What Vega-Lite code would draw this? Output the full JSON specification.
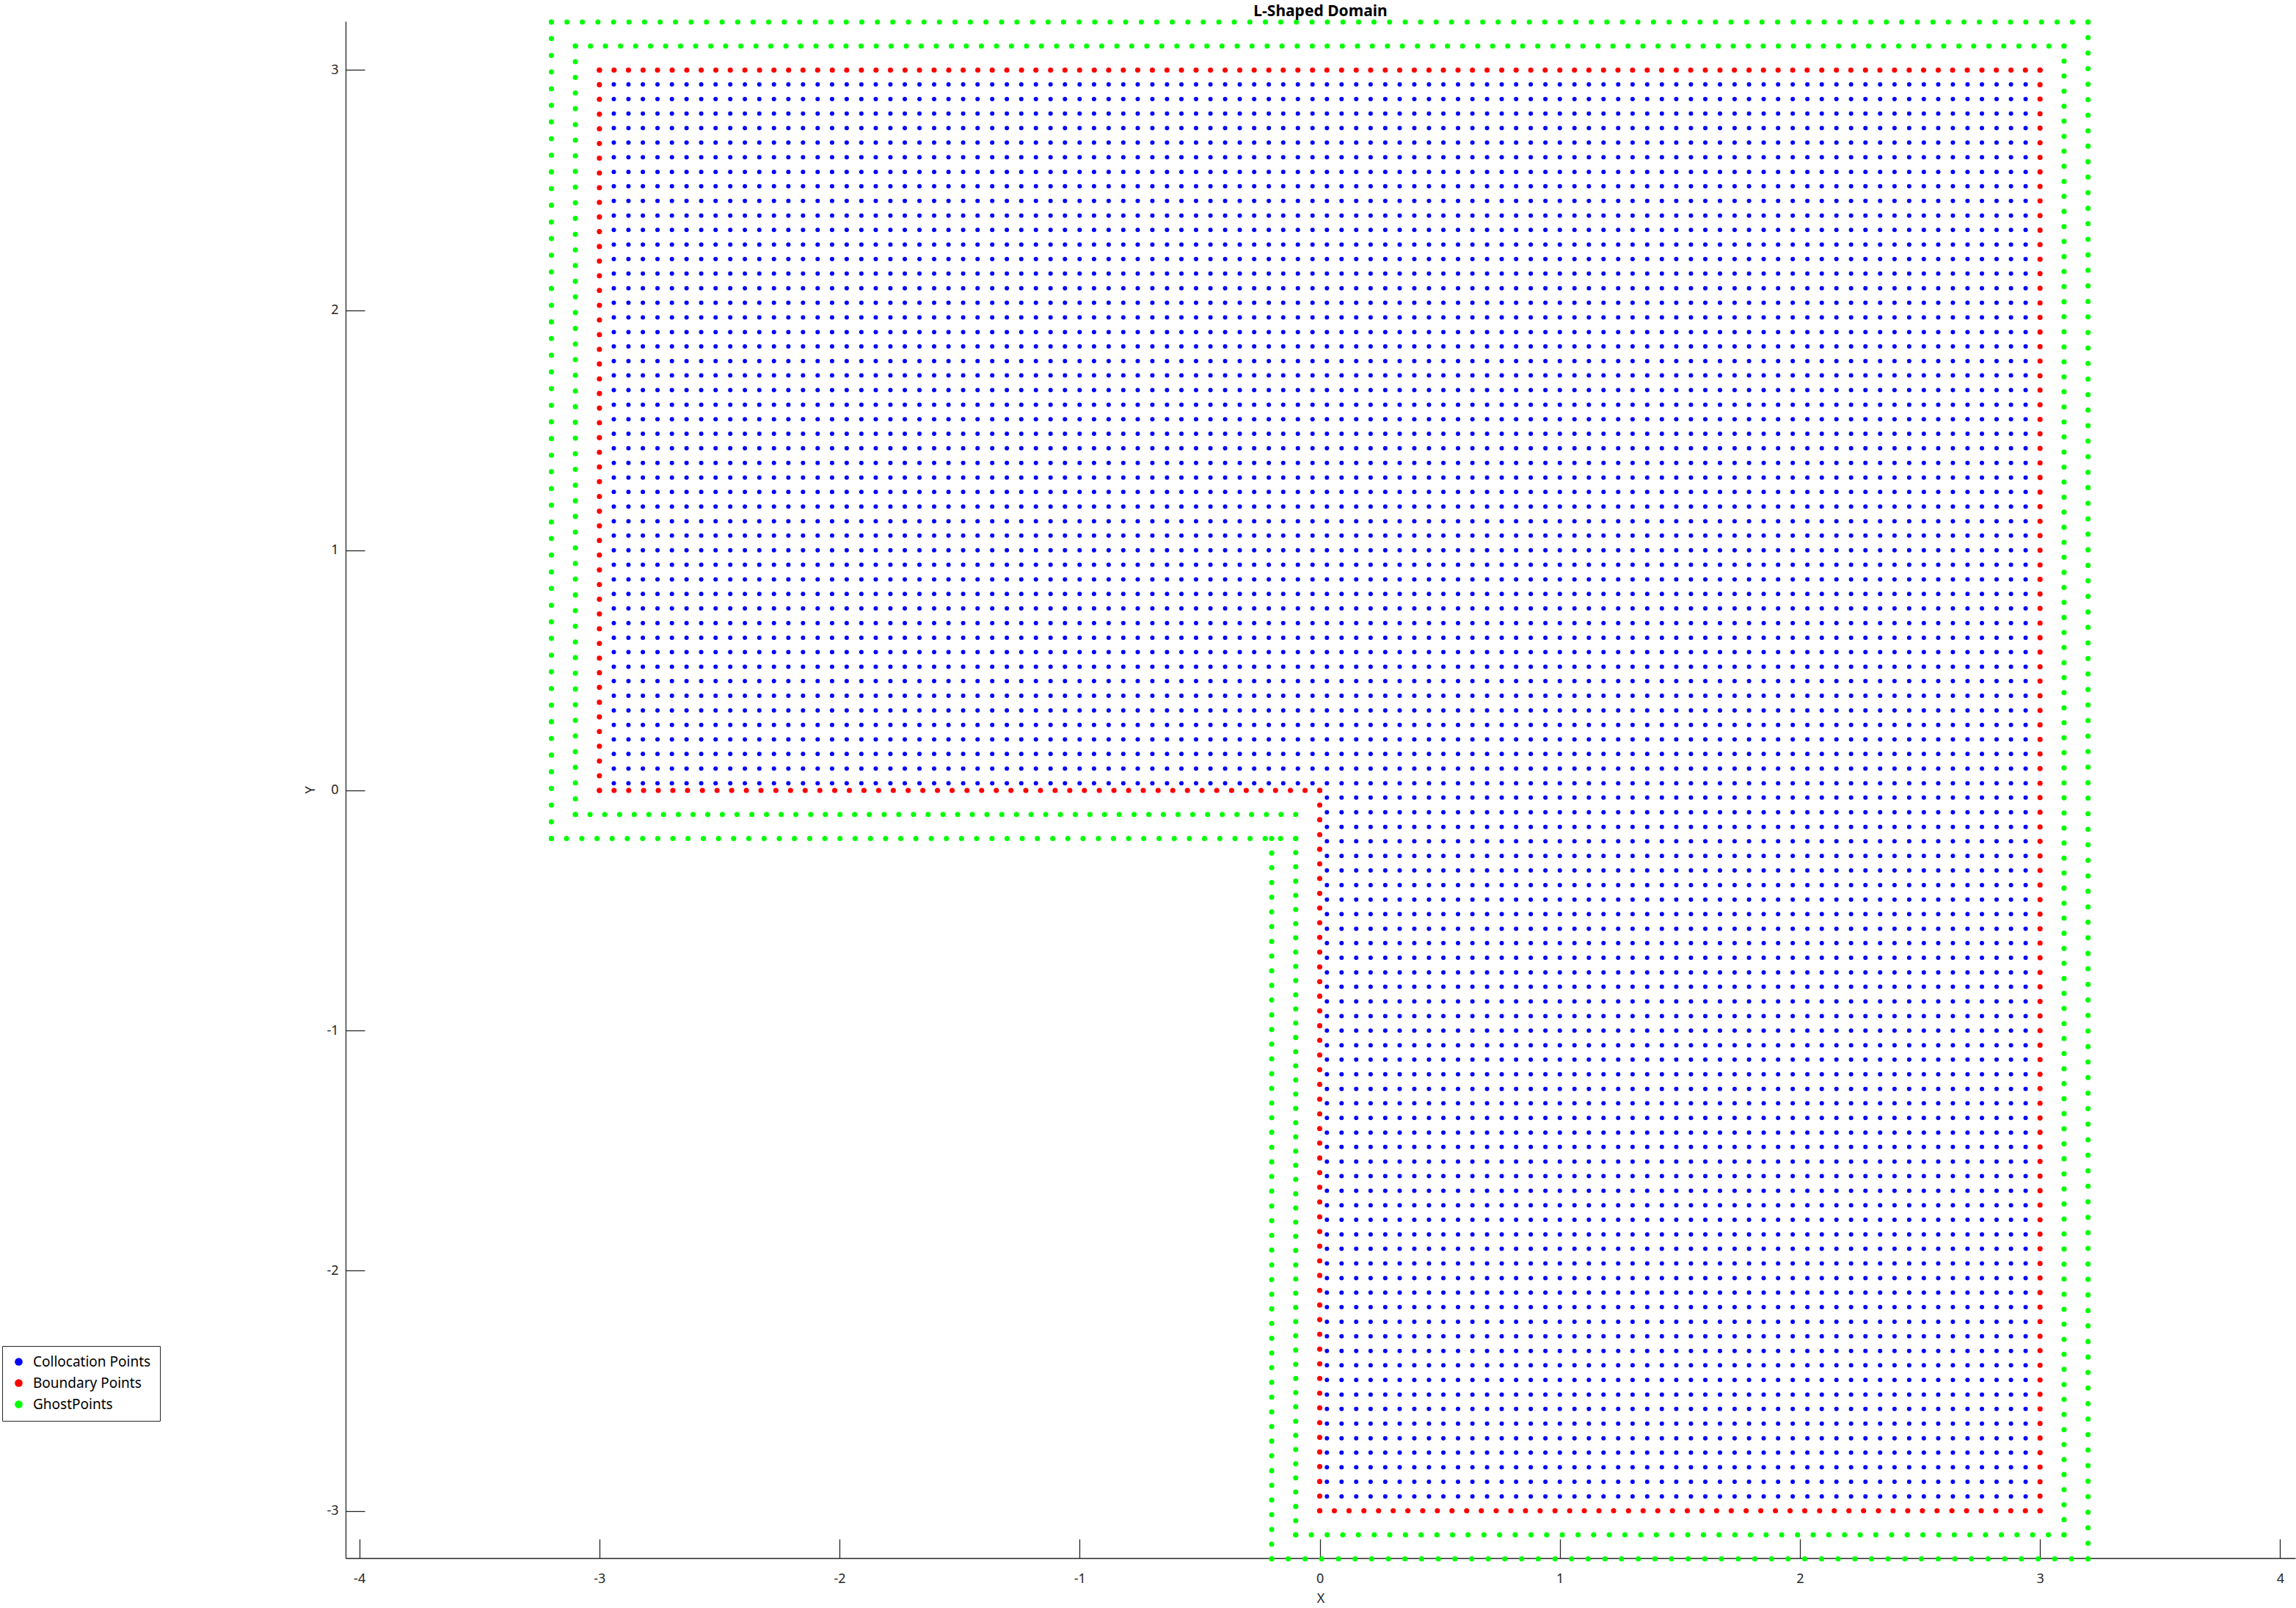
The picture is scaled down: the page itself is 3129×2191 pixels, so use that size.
{
"$schema": "https://vega.github.io/schema/vega-lite/v6.json",
"width": 2657, "height": 2094,
"autosize": {"type": "none"},
"padding": {"left": 471, "top": 29, "right": 1, "bottom": 68},
"background": "white",
"title": {"text": "L-Shaped Domain", "fontSize": 21, "fontWeight": "bold", "font": "Noto Sans", "color": "#000000", "anchor": "middle", "baseline": "alphabetic", "offset": 10, "dy": 27},
"config": {
 "view": {"stroke": null},
 "axis": {"domainColor": "#262626", "tickColor": "#262626", "labelColor": "#262626", "titleColor": "#262626", "labelFont": "Noto Sans", "titleFont": "Noto Sans", "labelFontSize": 18, "titleFontSize": 18, "titleFontWeight": "normal", "tickSize": -26, "grid": false, "domainWidth": 1.3, "tickWidth": 1.3, "labelExpr": "datum.value"}
},
"data": {"values": [
{"t":"GhostPoints","ys":[3.2],"xs":[-3.2,-3.135,-3.071,-3.006,-2.941,-2.877,-2.812,-2.747,-2.683,-2.618,-2.554,-2.489,-2.424,-2.36,-2.295,-2.23,-2.166,-2.101,-2.036,-1.972,-1.907,-1.842,-1.778,-1.713,-1.648,-1.584,-1.519,-1.455,-1.39,-1.325,-1.261,-1.196,-1.131,-1.067,-1.002,-0.937,-0.873,-0.808,-0.743,-0.679,-0.614,-0.549,-0.485,-0.42,-0.356,-0.291,-0.226,-0.162,-0.097,-0.032,0.032,0.097,0.162,0.226,0.291,0.356,0.42,0.485,0.549,0.614,0.679,0.743,0.808,0.873,0.937,1.002,1.067,1.131,1.196,1.261,1.325,1.39,1.455,1.519,1.584,1.648,1.713,1.778,1.842,1.907,1.972,2.036,2.101,2.166,2.23,2.295,2.36,2.424,2.489,2.554,2.618,2.683,2.747,2.812,2.877,2.941,3.006,3.071,3.135,3.2]},
{"t":"GhostPoints","xs":[3.2],"ys":[-3.2,-3.135,-3.071,-3.006,-2.941,-2.877,-2.812,-2.747,-2.683,-2.618,-2.554,-2.489,-2.424,-2.36,-2.295,-2.23,-2.166,-2.101,-2.036,-1.972,-1.907,-1.842,-1.778,-1.713,-1.648,-1.584,-1.519,-1.455,-1.39,-1.325,-1.261,-1.196,-1.131,-1.067,-1.002,-0.937,-0.873,-0.808,-0.743,-0.679,-0.614,-0.549,-0.485,-0.42,-0.356,-0.291,-0.226,-0.162,-0.097,-0.032,0.032,0.097,0.162,0.226,0.291,0.356,0.42,0.485,0.549,0.614,0.679,0.743,0.808,0.873,0.937,1.002,1.067,1.131,1.196,1.261,1.325,1.39,1.455,1.519,1.584,1.648,1.713,1.778,1.842,1.907,1.972,2.036,2.101,2.166,2.23,2.295,2.36,2.424,2.489,2.554,2.618,2.683,2.747,2.812,2.877,2.941,3.006,3.071,3.135,3.2]},
{"t":"GhostPoints","ys":[-3.2],"xs":[-0.2,-0.131,-0.061,0.008,0.078,0.147,0.216,0.286,0.355,0.424,0.494,0.563,0.633,0.702,0.771,0.841,0.91,0.98,1.049,1.118,1.188,1.257,1.327,1.396,1.465,1.535,1.604,1.673,1.743,1.812,1.882,1.951,2.02,2.09,2.159,2.229,2.298,2.367,2.437,2.506,2.576,2.645,2.714,2.784,2.853,2.922,2.992,3.061,3.131,3.2]},
{"t":"GhostPoints","xs":[-3.2],"ys":[-0.2,-0.131,-0.061,0.008,0.078,0.147,0.216,0.286,0.355,0.424,0.494,0.563,0.633,0.702,0.771,0.841,0.91,0.98,1.049,1.118,1.188,1.257,1.327,1.396,1.465,1.535,1.604,1.673,1.743,1.812,1.882,1.951,2.02,2.09,2.159,2.229,2.298,2.367,2.437,2.506,2.576,2.645,2.714,2.784,2.853,2.922,2.992,3.061,3.131,3.2]},
{"t":"GhostPoints","xs":[-0.2],"ys":[-3.2,-3.139,-3.078,-3.016,-2.955,-2.894,-2.833,-2.771,-2.71,-2.649,-2.588,-2.527,-2.465,-2.404,-2.343,-2.282,-2.22,-2.159,-2.098,-2.037,-1.976,-1.914,-1.853,-1.792,-1.731,-1.669,-1.608,-1.547,-1.486,-1.424,-1.363,-1.302,-1.241,-1.18,-1.118,-1.057,-0.996,-0.935,-0.873,-0.812,-0.751,-0.69,-0.629,-0.567,-0.506,-0.445,-0.384,-0.322,-0.261,-0.2]},
{"t":"GhostPoints","ys":[-0.2],"xs":[-3.2,-3.137,-3.073,-3.01,-2.947,-2.884,-2.82,-2.757,-2.694,-2.631,-2.567,-2.504,-2.441,-2.378,-2.314,-2.251,-2.188,-2.124,-2.061,-1.998,-1.935,-1.871,-1.808,-1.745,-1.682,-1.618,-1.555,-1.492,-1.429,-1.365,-1.302,-1.239,-1.176,-1.112,-1.049,-0.986,-0.922,-0.859,-0.796,-0.733,-0.669,-0.606,-0.543,-0.48,-0.416,-0.353,-0.29,-0.227,-0.163,-0.1]},
{"t":"GhostPoints","ys":[3.1],"xs":[-3.1,-3.037,-2.975,-2.912,-2.849,-2.787,-2.724,-2.662,-2.599,-2.536,-2.474,-2.411,-2.348,-2.286,-2.223,-2.161,-2.098,-2.035,-1.973,-1.91,-1.847,-1.785,-1.722,-1.66,-1.597,-1.534,-1.472,-1.409,-1.346,-1.284,-1.221,-1.159,-1.096,-1.033,-0.971,-0.908,-0.845,-0.783,-0.72,-0.658,-0.595,-0.532,-0.47,-0.407,-0.344,-0.282,-0.219,-0.157,-0.094,-0.031,0.031,0.094,0.157,0.219,0.282,0.344,0.407,0.47,0.532,0.595,0.658,0.72,0.783,0.845,0.908,0.971,1.033,1.096,1.159,1.221,1.284,1.346,1.409,1.472,1.534,1.597,1.66,1.722,1.785,1.847,1.91,1.973,2.035,2.098,2.161,2.223,2.286,2.348,2.411,2.474,2.536,2.599,2.662,2.724,2.787,2.849,2.912,2.975,3.037,3.1]},
{"t":"GhostPoints","xs":[3.1],"ys":[-3.1,-3.037,-2.975,-2.912,-2.849,-2.787,-2.724,-2.662,-2.599,-2.536,-2.474,-2.411,-2.348,-2.286,-2.223,-2.161,-2.098,-2.035,-1.973,-1.91,-1.847,-1.785,-1.722,-1.66,-1.597,-1.534,-1.472,-1.409,-1.346,-1.284,-1.221,-1.159,-1.096,-1.033,-0.971,-0.908,-0.845,-0.783,-0.72,-0.658,-0.595,-0.532,-0.47,-0.407,-0.344,-0.282,-0.219,-0.157,-0.094,-0.031,0.031,0.094,0.157,0.219,0.282,0.344,0.407,0.47,0.532,0.595,0.658,0.72,0.783,0.845,0.908,0.971,1.033,1.096,1.159,1.221,1.284,1.346,1.409,1.472,1.534,1.597,1.66,1.722,1.785,1.847,1.91,1.973,2.035,2.098,2.161,2.223,2.286,2.348,2.411,2.474,2.536,2.599,2.662,2.724,2.787,2.849,2.912,2.975,3.037,3.1]},
{"t":"GhostPoints","ys":[-3.1],"xs":[-0.1,-0.035,0.031,0.096,0.161,0.227,0.292,0.357,0.422,0.488,0.553,0.618,0.684,0.749,0.814,0.88,0.945,1.01,1.076,1.141,1.206,1.271,1.337,1.402,1.467,1.533,1.598,1.663,1.729,1.794,1.859,1.924,1.99,2.055,2.12,2.186,2.251,2.316,2.382,2.447,2.512,2.578,2.643,2.708,2.773,2.839,2.904,2.969,3.035,3.1]},
{"t":"GhostPoints","xs":[-3.1],"ys":[-0.1,-0.035,0.031,0.096,0.161,0.227,0.292,0.357,0.422,0.488,0.553,0.618,0.684,0.749,0.814,0.88,0.945,1.01,1.076,1.141,1.206,1.271,1.337,1.402,1.467,1.533,1.598,1.663,1.729,1.794,1.859,1.924,1.99,2.055,2.12,2.186,2.251,2.316,2.382,2.447,2.512,2.578,2.643,2.708,2.773,2.839,2.904,2.969,3.035,3.1]},
{"t":"GhostPoints","xs":[-0.1],"ys":[-3.1,-3.041,-2.982,-2.922,-2.863,-2.804,-2.745,-2.686,-2.627,-2.567,-2.508,-2.449,-2.39,-2.331,-2.271,-2.212,-2.153,-2.094,-2.035,-1.976,-1.916,-1.857,-1.798,-1.739,-1.68,-1.62,-1.561,-1.502,-1.443,-1.384,-1.324,-1.265,-1.206,-1.147,-1.088,-1.029,-0.969,-0.91,-0.851,-0.792,-0.733,-0.673,-0.614,-0.555,-0.496,-0.437,-0.378,-0.318,-0.259,-0.2]},
{"t":"GhostPoints","ys":[-0.1],"xs":[-3.1,-3.039,-2.978,-2.916,-2.855,-2.794,-2.733,-2.671,-2.61,-2.549,-2.488,-2.427,-2.365,-2.304,-2.243,-2.182,-2.12,-2.059,-1.998,-1.937,-1.876,-1.814,-1.753,-1.692,-1.631,-1.569,-1.508,-1.447,-1.386,-1.324,-1.263,-1.202,-1.141,-1.08,-1.018,-0.957,-0.896,-0.835,-0.773,-0.712,-0.651,-0.59,-0.529,-0.467,-0.406,-0.345,-0.284,-0.222,-0.161,-0.1]},
{"t":"Boundary Points","ys":[3],"xs":[-3,-2.939,-2.879,-2.818,-2.758,-2.697,-2.636,-2.576,-2.515,-2.455,-2.394,-2.333,-2.273,-2.212,-2.152,-2.091,-2.03,-1.97,-1.909,-1.848,-1.788,-1.727,-1.667,-1.606,-1.545,-1.485,-1.424,-1.364,-1.303,-1.242,-1.182,-1.121,-1.061,-1,-0.939,-0.879,-0.818,-0.758,-0.697,-0.636,-0.576,-0.515,-0.455,-0.394,-0.333,-0.273,-0.212,-0.152,-0.091,-0.03,0.03,0.091,0.152,0.212,0.273,0.333,0.394,0.455,0.515,0.576,0.636,0.697,0.758,0.818,0.879,0.939,1,1.061,1.121,1.182,1.242,1.303,1.364,1.424,1.485,1.545,1.606,1.667,1.727,1.788,1.848,1.909,1.97,2.03,2.091,2.152,2.212,2.273,2.333,2.394,2.455,2.515,2.576,2.636,2.697,2.758,2.818,2.879,2.939,3]},
{"t":"Boundary Points","xs":[3],"ys":[-3,-2.939,-2.879,-2.818,-2.758,-2.697,-2.636,-2.576,-2.515,-2.455,-2.394,-2.333,-2.273,-2.212,-2.152,-2.091,-2.03,-1.97,-1.909,-1.848,-1.788,-1.727,-1.667,-1.606,-1.545,-1.485,-1.424,-1.364,-1.303,-1.242,-1.182,-1.121,-1.061,-1,-0.939,-0.879,-0.818,-0.758,-0.697,-0.636,-0.576,-0.515,-0.455,-0.394,-0.333,-0.273,-0.212,-0.152,-0.091,-0.03,0.03,0.091,0.152,0.212,0.273,0.333,0.394,0.455,0.515,0.576,0.636,0.697,0.758,0.818,0.879,0.939,1,1.061,1.121,1.182,1.242,1.303,1.364,1.424,1.485,1.545,1.606,1.667,1.727,1.788,1.848,1.909,1.97,2.03,2.091,2.152,2.212,2.273,2.333,2.394,2.455,2.515,2.576,2.636,2.697,2.758,2.818,2.879,2.939,3]},
{"t":"Boundary Points","ys":[-3],"xs":[0,0.061,0.122,0.184,0.245,0.306,0.367,0.429,0.49,0.551,0.612,0.673,0.735,0.796,0.857,0.918,0.98,1.041,1.102,1.163,1.224,1.286,1.347,1.408,1.469,1.531,1.592,1.653,1.714,1.776,1.837,1.898,1.959,2.02,2.082,2.143,2.204,2.265,2.327,2.388,2.449,2.51,2.571,2.633,2.694,2.755,2.816,2.878,2.939,3]},
{"t":"Boundary Points","xs":[-3],"ys":[0,0.061,0.122,0.184,0.245,0.306,0.367,0.429,0.49,0.551,0.612,0.673,0.735,0.796,0.857,0.918,0.98,1.041,1.102,1.163,1.224,1.286,1.347,1.408,1.469,1.531,1.592,1.653,1.714,1.776,1.837,1.898,1.959,2.02,2.082,2.143,2.204,2.265,2.327,2.388,2.449,2.51,2.571,2.633,2.694,2.755,2.816,2.878,2.939,3]},
{"t":"Boundary Points","xs":[0],"ys":[-3,-2.939,-2.878,-2.816,-2.755,-2.694,-2.633,-2.571,-2.51,-2.449,-2.388,-2.327,-2.265,-2.204,-2.143,-2.082,-2.02,-1.959,-1.898,-1.837,-1.776,-1.714,-1.653,-1.592,-1.531,-1.469,-1.408,-1.347,-1.286,-1.224,-1.163,-1.102,-1.041,-0.98,-0.918,-0.857,-0.796,-0.735,-0.673,-0.612,-0.551,-0.49,-0.429,-0.367,-0.306,-0.245,-0.184,-0.122,-0.061,0]},
{"t":"Boundary Points","ys":[0],"xs":[-3,-2.939,-2.878,-2.816,-2.755,-2.694,-2.633,-2.571,-2.51,-2.449,-2.388,-2.327,-2.265,-2.204,-2.143,-2.082,-2.02,-1.959,-1.898,-1.837,-1.776,-1.714,-1.653,-1.592,-1.531,-1.469,-1.408,-1.347,-1.286,-1.224,-1.163,-1.102,-1.041,-0.98,-0.918,-0.857,-0.796,-0.735,-0.673,-0.612,-0.551,-0.49,-0.429,-0.367,-0.306,-0.245,-0.184,-0.122,-0.061,0]},
{"t":"Collocation Points","ys":[0.03,0.091,0.152,0.212,0.273,0.333,0.394,0.455,0.515,0.576,0.636,0.697,0.758,0.818,0.879,0.94,1,1.061,1.121,1.182,1.243,1.303,1.364,1.425,1.485,1.546,1.606,1.667,1.728,1.788,1.849,1.909,1.97,2.031,2.091,2.152,2.213,2.273,2.334,2.394,2.455,2.516,2.576,2.637,2.698,2.758,2.819,2.879,2.94],"xs":[-2.94,-2.879,-2.819,-2.758,-2.698,-2.637,-2.576,-2.516,-2.455,-2.394,-2.334,-2.273,-2.213,-2.152,-2.091,-2.031,-1.97,-1.909,-1.849,-1.788,-1.728,-1.667,-1.606,-1.546,-1.485,-1.425,-1.364,-1.303,-1.243,-1.182,-1.121,-1.061,-1,-0.94,-0.879,-0.818,-0.758,-0.697,-0.636,-0.576,-0.515,-0.455,-0.394,-0.333,-0.273,-0.212,-0.152,-0.091,-0.03,0.03,0.091,0.152,0.212,0.273,0.333,0.394,0.455,0.515,0.576,0.636,0.697,0.758,0.818,0.879,0.94,1,1.061,1.121,1.182,1.243,1.303,1.364,1.425,1.485,1.546,1.606,1.667,1.728,1.788,1.849,1.909,1.97,2.031,2.091,2.152,2.213,2.273,2.334,2.394,2.455,2.516,2.576,2.637,2.698,2.758,2.819,2.879,2.94]},
{"t":"Collocation Points","ys":[-2.94,-2.879,-2.819,-2.758,-2.698,-2.637,-2.576,-2.516,-2.455,-2.394,-2.334,-2.273,-2.213,-2.152,-2.091,-2.031,-1.97,-1.909,-1.849,-1.788,-1.728,-1.667,-1.606,-1.546,-1.485,-1.425,-1.364,-1.303,-1.243,-1.182,-1.121,-1.061,-1,-0.94,-0.879,-0.818,-0.758,-0.697,-0.636,-0.576,-0.515,-0.455,-0.394,-0.333,-0.273,-0.212,-0.152,-0.091,-0.03],"xs":[0.03,0.091,0.152,0.212,0.273,0.333,0.394,0.455,0.515,0.576,0.636,0.697,0.758,0.818,0.879,0.94,1,1.061,1.121,1.182,1.243,1.303,1.364,1.425,1.485,1.546,1.606,1.667,1.728,1.788,1.849,1.909,1.97,2.031,2.091,2.152,2.213,2.273,2.334,2.394,2.455,2.516,2.576,2.637,2.698,2.758,2.819,2.879,2.94]}
]},
"transform": [
 {"flatten": ["ys"], "as": ["y"]},
 {"flatten": ["xs"], "as": ["x"]}
],
"mark": {"type": "point", "filled": true, "opacity": 1, "strokeWidth": 0},
"encoding": {
 "x": {"field": "x", "type": "quantitative", "scale": {"domain": [-4.057, 4.063], "nice": false, "zero": false},
  "axis": {"values": [-4,-3,-2,-1,0,1,2,3,4], "title": "X", "labelPadding": 45, "labelBaseline": "top", "titlePadding": 9}},
 "y": {"field": "y", "type": "quantitative", "scale": {"domain": [-3.197, 3.203], "nice": false, "zero": false},
  "axis": {"values": [-3,-2,-1,0,1,2,3], "title": "Y", "labelPadding": 36, "titlePadding": 12}},
 "color": {"field": "t", "type": "nominal",
  "scale": {"domain": ["Collocation Points", "Boundary Points", "GhostPoints"], "range": ["#0000ff", "#ff0000", "#00ff00"]},
  "legend": {"title": null, "orient": "none", "legendX": -468, "legendY": 1805, "strokeColor": "#262626", "fillColor": "#ffffff", "padding": 12, "labelFont": "Noto Sans", "labelFontSize": 19, "labelLimit": 400, "labelColor": "#000000", "symbolType": "circle", "symbolSize": 113, "symbolStrokeWidth": 0, "symbolOpacity": 1, "rowPadding": 9, "labelOffset": 10, "symbolOffset": 1}},
 "size": {"condition": {"test": "datum.t === 'Collocation Points'", "value": 36}, "value": 50}
}
}
